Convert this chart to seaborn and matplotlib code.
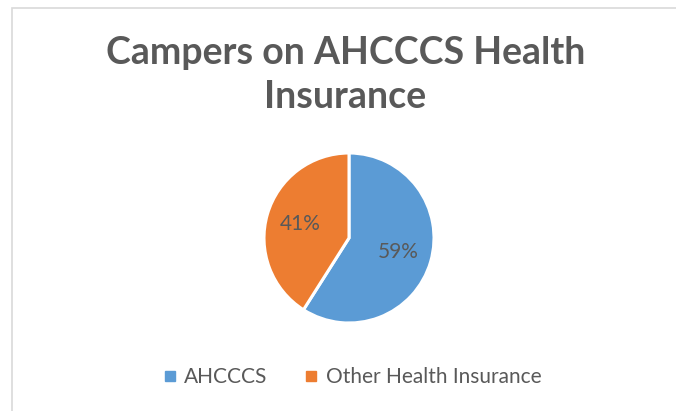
import matplotlib
matplotlib.use("Agg")
import matplotlib.pyplot as plt
import seaborn as sns
from matplotlib.patches import Rectangle
from matplotlib.lines import Line2D

categories = ["AHCCCS", "Other Health Insurance"]
values = [59, 41]
title = "Campers on AHCCCS Health\nInsurance"

sns.set_theme(style="white")
plt.rcParams['font.family'] = ['Lato', 'DejaVu Sans']

colors = ["#5B9BD5", "#ED7D31"]
text_color = "#595959"

W, H = 676, 411
fig = plt.figure(figsize=(W / 100, H / 100), dpi=100)
fig.patch.set_facecolor("white")

# chart border
fig.patches.append(Rectangle((11.5 / W, -0.1), 1.2, (H - 8.5) / H + 0.1,
                             transform=fig.transFigure, fill=False,
                             edgecolor="#D9D9D9", linewidth=1.2))

cx, cy, r = 349, 238, 85
ax = fig.add_axes([(cx - r) / W, (H - cy - r) / H, 2 * r / W, 2 * r / H])
ax.pie(values, colors=colors, startangle=90, counterclock=False,
       autopct=lambda p: f"{p:.0f}%", pctdistance=0.6,
       wedgeprops=dict(edgecolor="white", linewidth=2.2),
       textprops=dict(color=text_color, fontsize=15))
ax.set_xlim(-1, 1)
ax.set_ylim(-1, 1)
ax.set_aspect("equal")
ax.axis("off")

fig.text(0.511, 1 - 75 / H, title, ha="center", va="center",
         fontsize=27, fontweight="bold", color=text_color, linespacing=1.38)

handles = [Line2D([0], [0], marker="s", linestyle="none", markersize=7,
                  markerfacecolor=c, markeredgecolor=c) for c in colors]
fig.legend(handles, categories, loc="center", bbox_to_anchor=(0.52, 1 - 377 / H),
           ncol=2, frameon=False, fontsize=15, labelcolor=text_color,
           handletextpad=0.3, columnspacing=1.7, handlelength=0.8)

fig.savefig("out.png", dpi=100, facecolor="white")
